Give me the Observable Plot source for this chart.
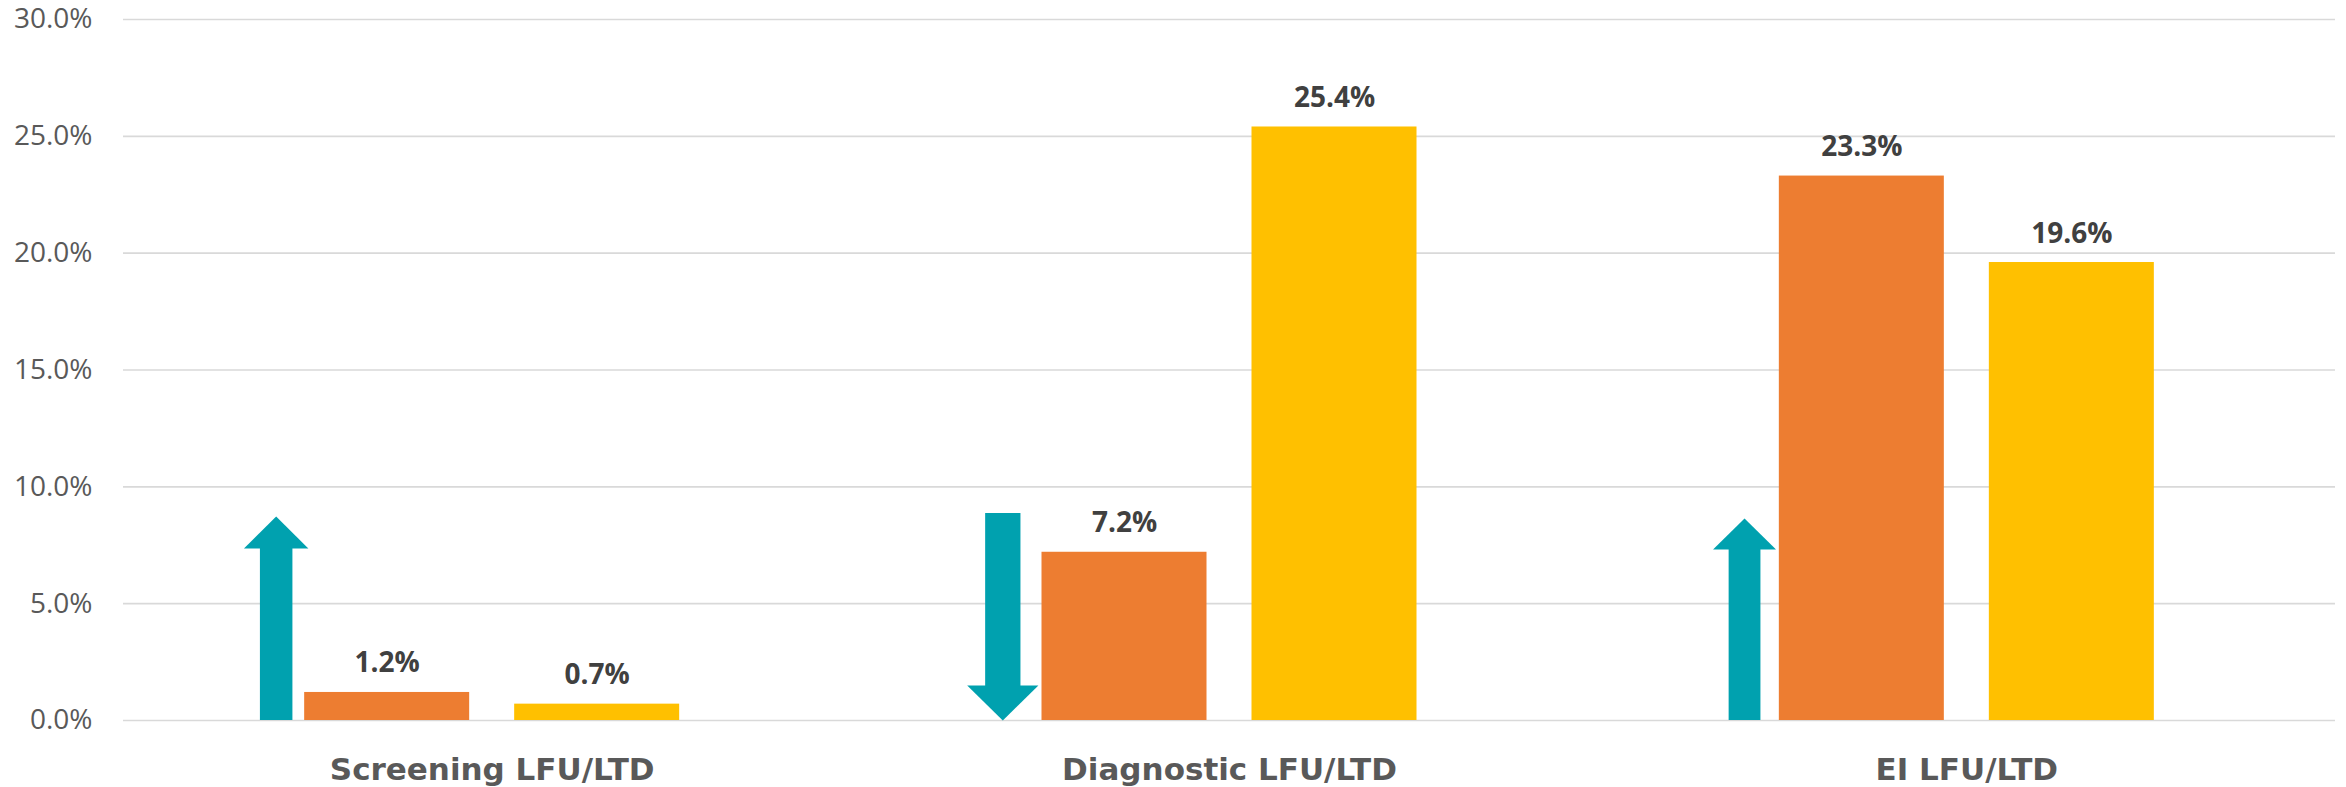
<!DOCTYPE html>
<html>
<head>
<meta charset="utf-8">
<script src="https://cdn.jsdelivr.net/npm/d3@7"></script>
<script src="https://cdn.jsdelivr.net/npm/@observablehq/plot@0.6"></script>
<style>
  html, body { margin: 0; padding: 0; background: #ffffff; }
  #chart svg { display: block; }
</style>
</head>
<body>
<div id="chart"></div>
<script>
// ---- data ----
const categories = ["Screening LFU/LTD", "Diagnostic LFU/LTD", "EI LFU/LTD"];
const seriesNames = ["Series 1", "Series 2"];
const series1Values = [1.2, 7.2, 23.3];
const series2Values = [0.7, 25.4, 19.6];
const yTicks = [0, 5, 10, 15, 20, 25, 30];
const arrowDirections = ["up", "down", "up"];
const arrowTops = [8.73, 8.86, 8.65];

// ---- layout / style ----
const W = 2346, H = 787;
const mL = 123, mR = 11, mT = 19, mB = 67;
const band = (W - mL - mR) / categories.length;
const barW = 165, gap = 45;
const orange = "#ED7D31", yellow = "#FFC000", teal = "#00A1AF";
const arrowStyles = [
  {dx: -216, shaft: 32.5, half: 32.2, len: 32},
  {dx: -226.7, shaft: 35.3, half: 35.6, len: 35},
  {dx: -222.3, shaft: 31.8, half: 31.5, len: 31}
];

const rows = categories.flatMap((c, i) => [
  {category: c, series: seriesNames[0], value: series1Values[i]},
  {category: c, series: seriesNames[1], value: series2Values[i]}
]);
const s1 = rows.filter(d => d.series === seriesNames[0]);
const s2 = rows.filter(d => d.series === seriesNames[1]);
const arrows = categories.map((c, i) => ({category: c, dir: arrowDirections[i], top: arrowTops[i], base: 0}));

const headSymbol = (half, len, down) => ({
  draw(context) {
    const s = down ? -1 : 1;
    context.moveTo(0, 0);
    context.lineTo(-half, s * len);
    context.lineTo(half, s * len);
    context.closePath();
  }
});

const arrowMarks = arrows.flatMap((a, i) => {
  const st = arrowStyles[i];
  if (a.dir === "up") {
    return [
      Plot.ruleX([a], {x: "category", y1: "top", y2: "base", stroke: teal, strokeWidth: st.shaft, insetTop: st.len - 2, dx: st.dx}),
      Plot.dot([a], {x: "category", y: "top", symbol: headSymbol(st.half, st.len, false), fill: teal, stroke: "none", dx: st.dx})
    ];
  } else {
    return [
      Plot.ruleX([a], {x: "category", y1: "top", y2: "base", stroke: teal, strokeWidth: st.shaft, insetBottom: st.len - 2, dx: st.dx}),
      Plot.dot([a], {x: "category", y: "base", symbol: headSymbol(st.half, st.len, true), fill: teal, stroke: "none", dx: st.dx})
    ];
  }
});

const chart = Plot.plot({
  width: W,
  height: H,
  marginLeft: mL,
  marginRight: mR,
  marginTop: mT,
  marginBottom: mB,
  style: {fontFamily: "Open Sans", fontSize: "28px", color: "#595959", background: "#ffffff"},
  x: {domain: categories, padding: 0, round: false, axis: null},
  y: {domain: [0, 30], ticks: yTicks, tickFormat: d => d.toFixed(1) + "%", tickSize: 0, tickPadding: 31, label: null},
  marks: [
    Plot.ruleY(yTicks, {y: d => d, stroke: "#D9D9D9", strokeWidth: 1.6}),
    Plot.barY(s1, {x: "category", y: "value", fill: orange, insetLeft: band / 2 - gap / 2 - barW, insetRight: band / 2 + gap / 2}),
    Plot.barY(s2, {x: "category", y: "value", fill: yellow, insetLeft: band / 2 + gap / 2, insetRight: band / 2 - gap / 2 - barW}),
    Plot.text(s1, {x: "category", y: "value", text: d => d.value.toFixed(1) + "%", dx: -(gap / 2 + barW / 2), dy: -20, lineAnchor: "bottom", fontSize: 28, fontWeight: "bold", fontFamily: "Open Sans", fill: "#404040"}),
    Plot.text(s2, {x: "category", y: "value", text: d => d.value.toFixed(1) + "%", dx: gap / 2 + barW / 2, dy: -20, lineAnchor: "bottom", fontSize: 28, fontWeight: "bold", fontFamily: "Open Sans", fill: "#404040"}),
    ...arrowMarks,
    Plot.text(categories, {x: d => d, frameAnchor: "bottom", lineAnchor: "bottom", dy: 59, text: d => d, fontSize: 31, fontWeight: "bold", fontFamily: "DejaVu Sans", fill: "#595959"})
  ]
});
document.getElementById("chart").append(chart);
</script>
</body>
</html>
